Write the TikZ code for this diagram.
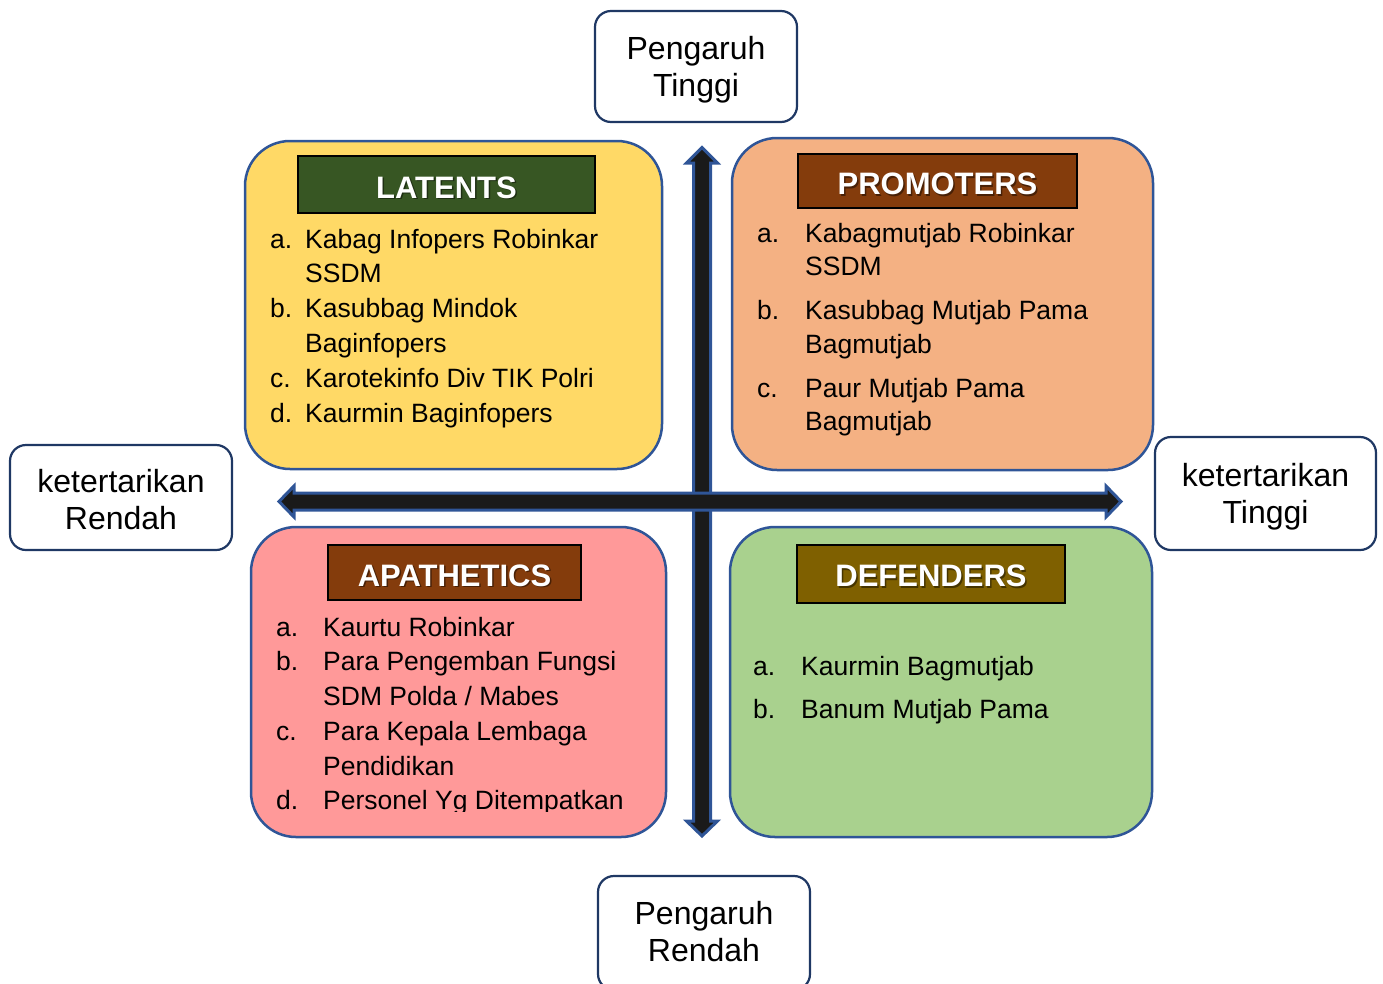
\documentclass[tikz,border=0pt]{standalone}
\usepackage{fontspec}
\setmainfont{Liberation Sans}
\definecolor{qborder}{HTML}{2F5597}
\definecolor{lborder}{HTML}{1F3864}
\definecolor{arrowfill}{HTML}{1A1A1A}
\definecolor{cyellow}{HTML}{FFD966}
\definecolor{corange}{HTML}{F4B183}
\definecolor{cpink}{HTML}{FF9999}
\definecolor{cgreen}{HTML}{A9D18E}
\definecolor{tgreen}{HTML}{375623}
\definecolor{tbrown}{HTML}{843C0C}
\definecolor{tolive}{HTML}{7F6000}
\begin{document}
\begin{tikzpicture}[x=1pt,y=-1pt,
 quad/.style={draw=qborder, line width=2.5pt, rounded corners=45pt, inner sep=0pt},
 labelbox/.style={draw=lborder, line width=2.2pt, fill=white, rounded corners=16pt, inner sep=0pt},
 titlebox/.style={draw=black, line width=1.5pt, inner sep=0pt},
 titletext/.style={text=white, font=\fontsize{31}{36}\selectfont\bfseries, inner sep=0pt},
 titleshadow/.style={text=black, text opacity=0.45, font=\fontsize{31}{36}\selectfont\bfseries, inner sep=0pt},
 item/.style={anchor=base west, font=\fontsize{26.5}{30}\selectfont, inner sep=0pt},
 axis/.style={font=\fontsize{32}{37}\selectfont, align=center, inner sep=0pt},
 arrowshape/.style={fill=arrowfill, draw=qborder, line width=3pt, line join=miter}]
\useasboundingbox (0,0) rectangle (1383,983);

% quadrants
\node[quad, fill=cyellow, minimum width=417pt, minimum height=328pt] (latents) at (453.5,305) {};
\node[quad, fill=corange, minimum width=421pt, minimum height=332pt] (promoters) at (942.5,304) {};
\node[quad, fill=cpink, minimum width=415pt, minimum height=310pt] (apathetics) at (458.5,682) {};
\node[quad, fill=cgreen, minimum width=422pt, minimum height=310pt] (defenders) at (941,682) {};

% arrows (vertical first, horizontal on top)
\draw[arrowshape] (702,147.5) -- (717.5,163) -- (710.5,163) -- (710.5,821) -- (717.5,821)
  -- (702,836) -- (686.5,821) -- (693.5,821) -- (693.5,163) -- (686.5,163) -- cycle;
\draw[arrowshape] (279,501.5) -- (294,486) -- (294,493) -- (1106,493) -- (1106,486)
  -- (1121,501.5) -- (1106,517) -- (1106,510) -- (294,510) -- (294,517) -- cycle;

% titles
\node[titlebox, fill=tgreen, minimum width=297pt, minimum height=57pt] (latT) at (446.5,184.5) {};
\node[titlebox, fill=tbrown, minimum width=279pt, minimum height=54pt] (proT) at (937.5,181) {};
\node[titlebox, fill=tbrown, minimum width=253pt, minimum height=55pt] (apaT) at (454.5,572.5) {};
\node[titlebox, fill=tolive, minimum width=268pt, minimum height=58pt] (defT) at (931,574) {};
\node[titleshadow] (latS) at ([shift={(1.5,4.5)}]latT.center) {LATENTS};
\node[titletext] (latX) at ([shift={(0,3)}]latT.center) {LATENTS};
\node[titleshadow] (proS) at ([shift={(1.5,4.5)}]proT.center) {PROMOTERS};
\node[titletext] (proX) at ([shift={(0,3)}]proT.center) {PROMOTERS};
\node[titleshadow] (apaS) at ([shift={(1.5,4.5)}]apaT.center) {APATHETICS};
\node[titletext] (apaX) at ([shift={(0,3)}]apaT.center) {APATHETICS};
\node[titleshadow] (defS) at ([shift={(1.5,3.5)}]defT.center) {DEFENDERS};
\node[titletext] (defX) at ([shift={(0,2)}]defT.center) {DEFENDERS};

% LATENTS list
\node[item] (la) at (270,248) {a.};
\node[item] (la1) at (305,248) {Kabag Infopers Robinkar};
\node[item] (la2) at (305,282) {SSDM};
\node[item] (lb) at (270,317) {b.};
\node[item] (lb1) at (305,317) {Kasubbag Mindok};
\node[item] (lb2) at (305,352) {Baginfopers};
\node[item] (lc) at (270,387) {c.};
\node[item] (lc1) at (305,387) {Karotekinfo Div TIK Polri};
\node[item] (ld) at (270,422) {d.};
\node[item] (ld1) at (305,422) {Kaurmin Baginfopers};

% PROMOTERS list
\node[item] (pa) at (757,242) {a.};
\node[item] (pa1) at (805,242) {Kabagmutjab Robinkar};
\node[item] (pa2) at (805,275) {SSDM};
\node[item] (pb) at (757,319) {b.};
\node[item] (pb1) at (805,319) {Kasubbag Mutjab Pama};
\node[item] (pb2) at (805,353) {Bagmutjab};
\node[item] (pc) at (757,397) {c.};
\node[item] (pc1) at (805,397) {Paur Mutjab Pama};
\node[item] (pc2) at (805,430) {Bagmutjab};

% APATHETICS list
\begin{scope}
\clip (250,520) rectangle (670,811);
\node[item] (aa) at (276,636) {a.};
\node[item] (aa1) at (323,636) {Kaurtu Robinkar};
\node[item] (ab) at (276,670) {b.};
\node[item] (ab1) at (323,670) {Para Pengemban Fungsi};
\node[item] (ab2) at (323,705) {SDM Polda / Mabes};
\node[item] (ac) at (276,740) {c.};
\node[item] (ac1) at (323,740) {Para Kepala Lembaga};
\node[item] (ac2) at (323,775) {Pendidikan};
\node[item] (ad) at (276,809) {d.};
\node[item] (ad1) at (323,809) {Personel Yg Ditempatkan};
\end{scope}

% DEFENDERS list
\node[item] (da) at (753,675) {a.};
\node[item] (da1) at (801,675) {Kaurmin Bagmutjab};
\node[item] (db) at (753,718) {b.};
\node[item] (db1) at (801,718) {Banum Mutjab Pama};

% axis labels
\node[labelbox, minimum width=202pt, minimum height=111pt] (pTinggi) at (696,66.5) {};
\node[axis] (pTinggiT) at ([shift={(0,3)}]pTinggi.center) {Pengaruh\\Tinggi};
\node[labelbox, minimum width=212pt, minimum height=114pt] (pRendah) at (704,933) {};
\node[axis] (pRendahT) at ([shift={(0,-1)}]pRendah.center) {Pengaruh\\Rendah};
\node[labelbox, minimum width=222pt, minimum height=105pt] (kRendah) at (121,497.5) {};
\node[axis] (kRendahT) at ([shift={(0,2)}]kRendah.center) {ketertarikan\\Rendah};
\node[labelbox, minimum width=221pt, minimum height=113pt] (kTinggi) at (1265.5,493.5) {};
\node[axis] (kTinggiT) at ([shift={(0,3)}]kTinggi.center) {ketertarikan\\Tinggi};
\end{tikzpicture}
\end{document}
